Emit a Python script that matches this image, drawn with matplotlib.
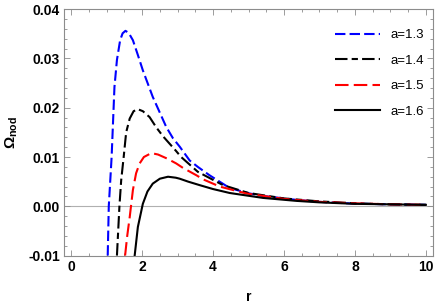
import numpy as np
import matplotlib
matplotlib.use('Agg')
import matplotlib.pyplot as plt
from matplotlib.ticker import MultipleLocator

plt.rcParams['font.family'] = ['Liberation Sans', 'DejaVu Sans']
plt.rcParams['mathtext.fontset'] = 'custom'
plt.rcParams['mathtext.rm'] = 'Liberation Sans:bold'
plt.rcParams['mathtext.it'] = 'Liberation Sans:bold'
plt.rcParams['mathtext.bf'] = 'Liberation Sans:bold'

# values
r_13 = [1.03, 1.06, 1.14, 1.22, 1.29, 1.38, 1.45, 1.53, 1.62, 1.74, 1.88, 2.02,
        2.30, 2.68, 2.87, 3.06, 3.34, 3.57, 3.90, 4.47, 5.03, 5.41, 6.35, 7.0,
        7.95, 9.0, 10.0]
om_13 = [-0.010, 0.000, 0.010, 0.0242, 0.0297, 0.0337, 0.0351, 0.0356, 0.0352,
         0.0337, 0.0307, 0.0276, 0.0222, 0.0161, 0.0138, 0.0121, 0.0093, 0.0080,
         0.0063, 0.0037, 0.0026, 0.0021, 0.0013, 0.0009, 0.00055, 0.0004, 0.0003]

r_14 = [1.29, 1.36, 1.41, 1.48, 1.55, 1.65, 1.76, 1.88, 2.02, 2.21, 2.40, 2.59,
        2.96, 3.10, 3.57, 4.28, 5.0, 6.0, 7.0, 8.0, 9.0, 10.0]
om_14 = [-0.010, 0.000, 0.0053, 0.010, 0.0150, 0.0178, 0.0193, 0.0197, 0.0193,
         0.0181, 0.0160, 0.0142, 0.0112, 0.0100, 0.0070, 0.0043, 0.0027, 0.0016,
         0.0010, 0.0006, 0.0004, 0.0003]

r_15 = [1.52, 1.58, 1.65, 1.74, 1.83, 1.93, 2.05, 2.26, 2.45, 2.70, 2.96, 3.15,
        3.53, 3.71, 4.19, 4.94, 6.0, 7.0, 8.0, 9.0, 10.0]
om_15 = [-0.010, -0.006, -0.0022, 0.0033, 0.0067, 0.0087, 0.0100, 0.0108,
         0.0105, 0.0097, 0.0087, 0.0078, 0.0063, 0.0055, 0.0040, 0.0026, 0.0015,
         0.0009, 0.0006, 0.0004, 0.0003]

r_16 = [1.79, 1.88, 2.02, 2.15, 2.30, 2.50, 2.73, 2.95, 3.06, 3.30, 3.62, 4.00,
        4.47, 5.41, 6.35, 7.0, 8.0, 9.0, 10.0]
om_16 = [-0.010, -0.0042, 0.0005, 0.0030, 0.0046, 0.0056, 0.0060, 0.0058, 0.0056,
         0.0050, 0.0043, 0.0035, 0.0027, 0.0017, 0.0011, 0.0008, 0.0005, 0.0004,
         0.0003]

labels = ['a=1.3', 'a=1.4', 'a=1.5', 'a=1.6']

fig = plt.figure(figsize=(4.36, 3.05), dpi=100)
ax = fig.add_axes([0.147, 0.162, 0.846, 0.808])

ax.axhline(0, color='#b0b0b0', lw=0.8, zorder=1)
ax.plot(r_13, om_13, color='#0000ff', lw=1.5, ls=(0, (5, 2)), label=labels[0])
ax.plot(r_14, om_14, color='black', lw=1.5, ls=(0, (6, 2, 3, 2)), label=labels[1])
ax.plot(r_15, om_15, color='#ff0000', lw=1.5, ls=(0, (6.5, 2.5)), label=labels[2])
ax.plot(r_16, om_16, color='black', lw=1.5, label=labels[3])

ax.set_xlim(-0.2, 10.2)
ax.set_ylim(-0.01, 0.04)
ax.xaxis.set_major_locator(MultipleLocator(2))
ax.xaxis.set_minor_locator(MultipleLocator(0.5))
ax.yaxis.set_major_locator(MultipleLocator(0.01))
ax.yaxis.set_minor_locator(MultipleLocator(0.002))
ax.yaxis.set_major_formatter(plt.FuncFormatter(lambda v, p: '%.2f' % v if abs(v) > 1e-9 else '0.00'))

for s in ax.spines.values():
    s.set_color('#8c8c8c')
    s.set_linewidth(0.8)
ax.tick_params(which='both', direction='in', top=True, right=True,
               color='#8c8c8c', width=0.6)
ax.tick_params(which='major', length=4, labelsize=10, pad=3)
ax.tick_params(which='minor', length=2.2)
for t in ax.get_xticklabels() + ax.get_yticklabels():
    t.set_fontweight('bold')

ax.set_xlabel('r', fontsize=10, fontweight='bold', labelpad=12)
ax.set_ylabel(r'$\Omega_{\rm nod}$', fontsize=11, labelpad=6)

ax.legend(loc='upper right', bbox_to_anchor=(0.99, 0.94), frameon=False,
          fontsize=9.5, handlelength=3.4, labelspacing=1.0, borderaxespad=0,
          handletextpad=0.8)

fig.savefig('out.png', dpi=100)
